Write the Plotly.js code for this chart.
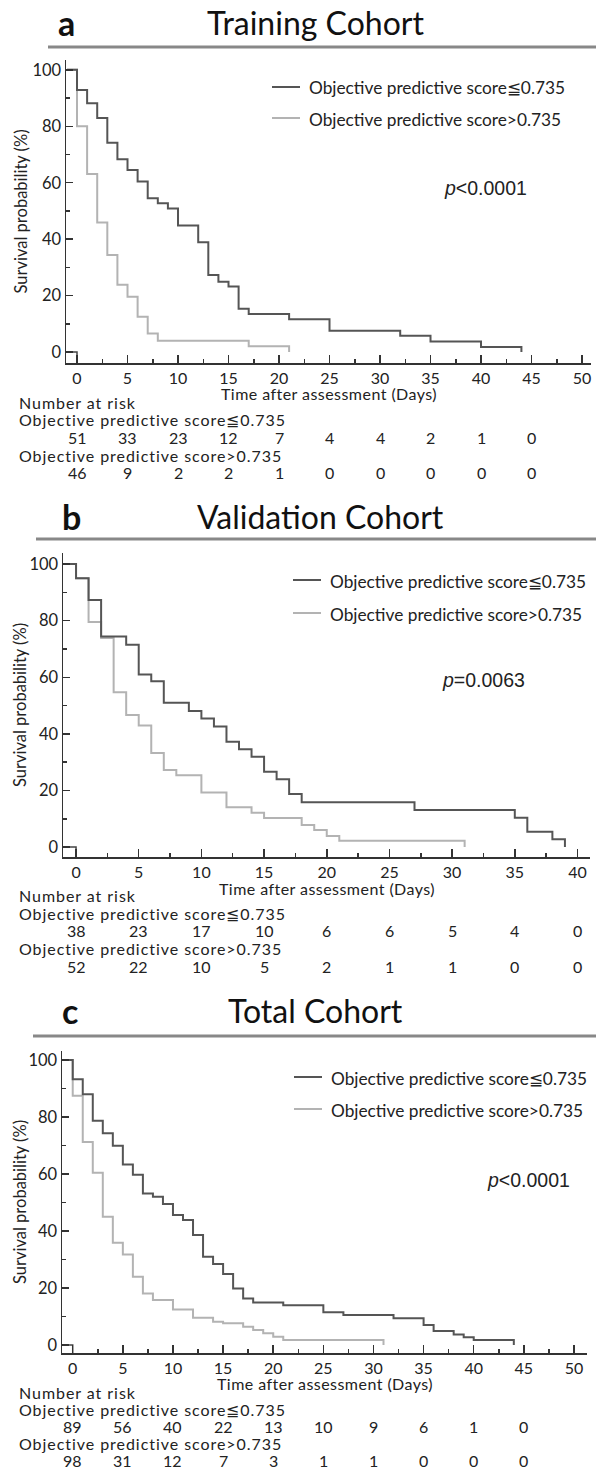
<!DOCTYPE html>
<html><head><meta charset="utf-8">
<script src="https://cdn.plot.ly/plotly-3.0.1.min.js"></script>
<style>body{margin:0;background:#fff}#chart{width:596px;height:1473px}</style>
</head><body><div id="chart"></div>
<script>
// ---------- DATA ----------
const panelLetters = ['a', 'b', 'c'];
const panelTitles = ['Training Cohort', 'Validation Cohort', 'Total Cohort'];
const groupLabels = ['Objective predictive score≦0.735', 'Objective predictive score>0.735'];
const pValueTexts = ['<i>p</i>&lt;0.0001', '<i>p</i>=0.0063', '<i>p</i>&lt;0.0001'];
const yAxisTitle = 'Survival probability (%)';
const xAxisTitle = 'Time after assessment (Days)';
const riskHeader = 'Number at risk';

// Panel a (Training)
const aLowT  = [-1,0,1,2,3,4,5,6,7,8,9,10,12,13,14,15,16,17,21,25,32,35,40,44];
const aLowS  = [100,92.9,88.2,82.9,74.2,68.3,64.5,60.4,54.5,52.7,50.9,44.8,38.9,27.3,24.9,23.2,15.3,13.5,11.6,7.5,5.8,3.7,1.8,0];
const aHighT = [-1,0,1,2,3,4,5,6,7,8,17,21];
const aHighS = [100,80.0,63.1,45.9,34.4,23.8,19.6,12.5,6.6,4.0,2.0,0];
const aRiskTimes = [0,5,10,15,20,25,30,35,40,45];
const aRiskLow  = [51,33,23,12,7,4,4,2,1,0];
const aRiskHigh = [46,9,2,2,1,0,0,0,0,0];

// Panel b (Validation)
const bLowT  = [-1,0,1,2,4,5,6,7,9,10,11,12,13,14,15,16,17,18,27,35,36,38,39];
const bLowS  = [100,95.0,87.3,74.4,71.5,61.0,58.6,51.0,48.1,45.4,42.6,37.2,34.6,31.9,26.6,24.0,18.8,15.8,13.1,10.4,5.4,2.8,0];
const bHighT = [-1,0,1,2,3,4,5,6,7,8,10,12,14,15,18,19,20,21,31];
const bHighS = [100,95,79.5,73.9,54.7,46.7,43.0,33.2,27.2,25.4,19.3,14.1,12.1,10.3,7.8,6.0,3.9,2.2,0];
const bRiskTimes = [0,5,10,15,20,25,30,35,40];
const bRiskLow  = [38,23,17,10,6,6,5,4,0];
const bRiskHigh = [52,22,10,5,2,1,1,0,0];

// Panel c (Total)
const cLowT  = [-1,0,1,2,3,4,5,6,7,8,9,10,11,12,13,14,15,16,17,18,21,25,27,32,35,36,38,39,40,44];
const cLowS  = [100,93.3,88.0,78.7,74.3,69.9,63.4,59.8,53.2,52.0,49.5,45.6,43.9,38.6,31.0,28.4,24.9,19.8,16.3,14.9,14.0,11.5,10.5,9.4,7.0,4.9,3.7,2.7,1.8,0];
const cHighT = [-1,0,1,2,3,4,5,6,7,8,10,12,14,15,17,18,19,20,21,31];
const cHighS = [100,87.5,71.3,60.5,45.0,35.9,31.8,24.0,18.1,15.8,12.5,9.6,8.2,7.6,6.4,5.3,4.1,2.9,1.8,0];
const cRiskTimes = [0,5,10,15,20,25,30,35,40,45];
const cRiskLow  = [89,56,40,22,13,10,9,6,1,0];
const cRiskHigh = [98,31,12,7,3,1,1,0,0,0];

// small corner mark at the origin drawn by the original software
const originMarkX = [-1.2, 0, 0];
const originMarkY = [0, 0, -6];

// ---------- LAYOUT (pixel geometry) ----------
const W = 596, H = 1473;
const px = v => v / W;
const py = v => 1 - v / H;

const DARK = '#555555', LIGHT = '#b3b3b3', AX = '#333333', TXT = '#222222';
const FONT = 'Lato, "Noto Sans", sans-serif';
const spaced = (s, ls) => '<span style="letter-spacing:' + ls + 'px">' + s + '</span>';

const panels = [
  { lowT:aLowT, lowS:aLowS, highT:aHighT, highS:aHighS, rt:aRiskTimes, rl:aRiskLow, rh:aRiskHigh,
    dx:[66,591], dy:[60,363], xr:[-1.09,50.89], yr:[-3.9,103.5],
    titleY:22, lineY:47, lineX0:48, letterX:66, titleX:315,
    legX0:272, legY:[87,118], legTextX:307, pX:442, pY:188,
    xTitleY:393, riskY:[403,420,437,455,472] },
  { lowT:bLowT, lowS:bLowS, highT:bHighT, highS:bHighS, rt:bRiskTimes, rl:bRiskLow, rh:bRiskHigh,
    dx:[63,590], dy:[553,857], xr:[-1.04,41.0], yr:[-3.5,103.9],
    titleY:516, lineY:539, lineX0:36, letterX:71, titleX:320,
    legX0:293, legY:[580,613], legTextX:328, pX:440, pY:680,
    xTitleY:888, riskY:[896,913,930,948,966] },
  { lowT:cLowT, lowS:cLowS, highT:cHighT, highS:cHighS, rt:cRiskTimes, rl:cRiskLow, rh:cRiskHigh,
    dx:[62,587], dy:[1051,1353], xr:[-1.07,51.3], yr:[-2.8,103.2],
    titleY:1010, lineY:1036, lineX0:33, letterX:70, titleX:315,
    legX0:294, legY:[1077,1109], legTextX:329, pX:485, pY:1180,
    xTitleY:1383, riskY:[1392,1409,1426,1443,1460] }
];

const traces = [], shapes = [], annotations = [];
const layout = {
  width: W, height: H, margin: {l:0, r:0, t:0, b:0},
  paper_bgcolor: '#fff', plot_bgcolor: '#fff', showlegend: false,
  font: {family: FONT, color: TXT, size: 16}
};

panels.forEach((p, i) => {
  const n = i === 0 ? '' : String(i + 1);
  const xa = 'x' + n, ya = 'y' + n;
  traces.push({x: originMarkX, y: originMarkY, xaxis: xa, yaxis: ya, mode: 'lines',
    line: {color: '#444', width: 1.5}, hoverinfo: 'skip'});
  traces.push({x: p.highT, y: p.highS, xaxis: xa, yaxis: ya, mode: 'lines',
    line: {color: LIGHT, width: 2, shape: 'hv'}, name: groupLabels[1]});
  traces.push({x: p.lowT, y: p.lowS, xaxis: xa, yaxis: ya, mode: 'lines',
    line: {color: DARK, width: 2, shape: 'hv'}, name: groupLabels[0]});

  layout['xaxis' + n] = {
    domain: [px(p.dx[0]), px(p.dx[1])], range: p.xr, anchor: ya,
    showgrid: false, zeroline: false, showline: true, linecolor: AX, linewidth: 1.5,
    ticks: 'inside', ticklen: 8, tickwidth: 1.5, tickcolor: AX, dtick: 5, tick0: 0,
    minor: {ticks: 'inside', ticklen: 4, tickwidth: 1.5, tickcolor: AX, dtick: 2.5, tick0: 0},
    tickfont: {family: FONT, size: 16, color: TXT}
  };
  layout['yaxis' + n] = {
    domain: [py(p.dy[1]), py(p.dy[0])], range: p.yr, anchor: xa,
    showgrid: false, zeroline: false, showline: true, linecolor: AX, linewidth: 1.5,
    ticks: 'inside', ticklen: 7, tickwidth: 1.5, tickcolor: AX, dtick: 20, tick0: 0,
    minor: {ticks: 'inside', ticklen: 4, tickwidth: 1.5, tickcolor: AX, dtick: 10, tick0: 0},
    tickfont: {family: FONT, size: 16.5, color: TXT}
  };

  // panel header
  annotations.push({xref:'paper', yref:'paper', x: px(p.letterX), y: py(p.titleY), text: '<b>' + panelLetters[i] + '</b>',
    showarrow:false, xanchor:'center', yanchor:'middle', font:{family: FONT, size: 34, color:'#111'}});
  annotations.push({xref:'paper', yref:'paper', x: px(p.titleX), y: py(p.titleY), text: panelTitles[i],
    showarrow:false, xanchor:'center', yanchor:'middle', font:{family: FONT, size: 32, color:'#111'}});
  shapes.push({type:'line', xref:'paper', yref:'paper', x0: px(p.lineX0), x1: 1, y0: py(p.lineY), y1: py(p.lineY),
    line:{color:'#888', width:3}});

  // legend
  [DARK, LIGHT].forEach((c, k) => {
    shapes.push({type:'line', xref:'paper', yref:'paper', x0: px(p.legX0), x1: px(p.legX0 + 28),
      y0: py(p.legY[k]), y1: py(p.legY[k]), line:{color:c, width:2}});
    annotations.push({xref:'paper', yref:'paper', x: px(p.legTextX), y: py(p.legY[k] + 1), text: groupLabels[k],
      showarrow:false, xanchor:'left', yanchor:'middle', font:{family: FONT, size: 17.3, color: TXT}});
  });

  // p value
  annotations.push({xref:'paper', yref:'paper', x: px(p.pX), y: py(p.pY), text: pValueTexts[i],
    showarrow:false, xanchor:'left', yanchor:'middle', font:{family:'"Liberation Sans", Arial, sans-serif', size: 19.5, color: TXT}});

  // axis titles
  annotations.push({xref:'paper', yref:'paper', x: px(20), y: py((p.dy[0] + p.dy[1]) / 2), text: yAxisTitle,
    textangle: -90, showarrow:false, xanchor:'center', yanchor:'middle', font:{family: FONT, size: 16.5, color: TXT}});
  annotations.push({xref: xa, yref:'paper', x: (p.xr[0] + p.xr[1]) / 2, y: py(p.xTitleY), text: spaced(xAxisTitle, 0.45),
    showarrow:false, xanchor:'center', yanchor:'middle', font:{family: FONT, size: 16, color: TXT}});

  // risk table
  const rowLabels = [riskHeader, groupLabels[0], null, groupLabels[1], null];
  [0, 1, 3].forEach(r => {
    annotations.push({xref:'paper', yref:'paper', x: px(17), y: py(p.riskY[r]), text: spaced(rowLabels[r], 0.95),
      showarrow:false, xanchor:'left', yanchor:'middle', font:{family: FONT, size: 16, color: TXT}});
  });
  p.rt.forEach((t, j) => {
    annotations.push({xref: xa, yref:'paper', x: t, y: py(p.riskY[2]), text: String(p.rl[j]),
      showarrow:false, xanchor:'center', yanchor:'middle', font:{family: FONT, size: 16, color: TXT}});
    annotations.push({xref: xa, yref:'paper', x: t, y: py(p.riskY[4]), text: String(p.rh[j]),
      showarrow:false, xanchor:'center', yanchor:'middle', font:{family: FONT, size: 16, color: TXT}});
  });
});

layout.shapes = shapes;
layout.annotations = annotations;
Plotly.newPlot('chart', traces, layout, {staticPlot: true, displayModeBar: false});
</script>
</body></html>
